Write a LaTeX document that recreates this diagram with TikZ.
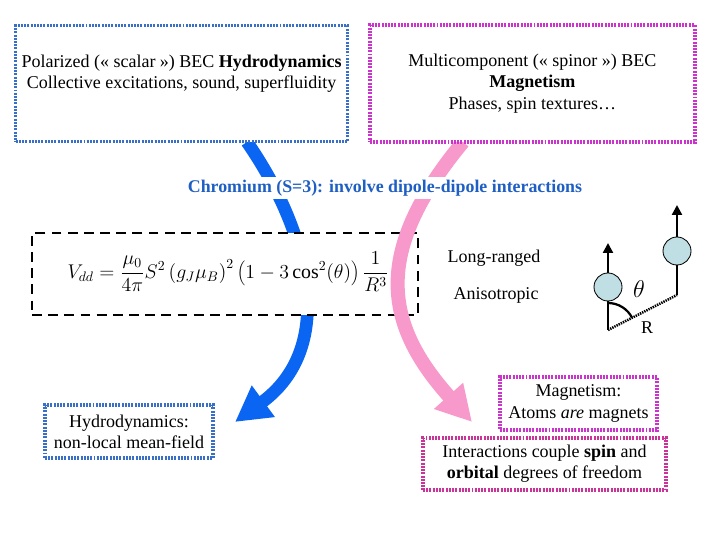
\documentclass[tikz,border=0pt]{standalone}
\usepackage{fontspec}
\setmainfont{Liberation Serif}
\usetikzlibrary{arrows.meta}
\definecolor{scalarborder}{HTML}{3A6FC8}
\definecolor{spinorborder}{HTML}{CC33CC}
\definecolor{couplingborder}{HTML}{CC3399}
\definecolor{bluearrow}{HTML}{0A66F2}
\definecolor{pinkarrow}{HTML}{F79ACB}
\definecolor{chromblue}{HTML}{1F5FC4}
\definecolor{atomfill}{HTML}{BFDFE5}
\tikzset{
  textbox/.style={rectangle, fill=white, line width=2.3pt, dash pattern=on 1.4pt off 0.9pt, align=center, font=\fontsize{12.8}{15}\selectfont},
  scalarbox/.style={textbox, draw=scalarborder},
  spinorbox/.style={textbox, draw=spinorborder},
  couplingbox/.style={textbox, draw=couplingborder},
  formulabox/.style={rectangle, draw=black, fill=white, line width=2pt, dash pattern=on 7pt off 4.5pt},
  plain/.style={font=\fontsize{12.8}{15}\selectfont, align=center},
  headline/.style={font=\fontsize{12.7}{14}\selectfont\bfseries, text=chromblue, fill=white, inner sep=2pt},
  bigflow/.style={line width=9pt, -{Triangle[length=25pt, width=26pt]}},
  atom/.style={circle, draw=black, fill=atomfill, line width=0.6pt, minimum size=0.7cm, inner sep=0pt},
  spin/.style={-{Triangle[length=7pt, width=7pt]}, line width=1.6pt},
  stem/.style={line width=1.6pt},
  bond/.style={line width=1.8pt, dash pattern=on 1pt off 0.7pt}
}
\begin{document}
\begin{tikzpicture}
\useasboundingbox (0,0) rectangle (18,13.5);
\fill[white] (0,0) rectangle (18,13.5);

\coordinate (bluestart) at (6.175,9.95);
\coordinate (bluetip) at (5.875,2.95);
\coordinate (pinkstart) at (11.575,9.95);
\coordinate (pinktip) at (11.8,2.95);

% blue branch goes behind the formula
\draw[bigflow, bluearrow] (bluestart) .. controls (7.8,7.6) and (8.4,4.8) .. (bluetip);

\node[formulabox, minimum width=9.65cm, minimum height=2.05cm] (dipolebox) at (5.625,6.65) {};
\node[font=\fontsize{14.4}{16}\selectfont] (formula) at (5.7,6.7)
  {\scalebox{0.98}{$\displaystyle V_{dd}=\frac{\mu_0}{4\pi}S^2\left(g_J\mu_B\right)^2\left(1-3\cos^2(\theta)\right)\frac{1}{R^3}$}};

% pink branch goes over it
\draw[bigflow, pinkarrow, line width=10pt] (pinkstart) .. controls (9.3,7.2) and (9.6,5.4) .. (pinktip);

\node[scalarbox, minimum width=8.3cm, minimum height=2.9cm] (scalar) at (4.54,11.41) {};
\node[plain] (scalartext) at (4.54,11.66) {Polarized (« scalar ») BEC \textbf{Hydrodynamics}\\Collective excitations, sound, superfluidity};
\node[spinorbox, minimum width=8.125cm, minimum height=2.925cm] (spinor) at (13.31,11.41) {Multicomponent (« spinor ») BEC\\\textbf{Magnetism}\\Phases, spin textures…};

\node[headline] (chromium) at (9.625,8.8) {Chromium (S=3): involve dipole-dipole interactions};

\node[plain] (longrange) at (12.35,7.05) {Long-ranged};
\node[plain] (aniso) at (12.4,6.125) {Anisotropic};

% two dipoles
\node[atom] (atomA) at (15.2,6.325) {};
\node[atom] (atomB) at (16.925,7.225) {};
\coordinate (baseA) at (15.2,5.25);
\coordinate (baseB) at (16.925,6.125);
\coordinate (tipA) at (15.2,7.425);
\coordinate (tipB) at (16.925,8.375);
\draw[stem] (atomA.south) -- (baseA);
\draw[stem] (atomB.south) -- (baseB);
\draw[spin] (atomA.north) -- (tipA);
\draw[spin] (atomB.north) -- (tipB);
\draw[bond] (baseA) -- (baseB);
\draw[stem] (baseA) ++(90:0.675) arc[start angle=90, end angle=27, radius=0.675];
\node[font=\fontsize{17}{17}\selectfont] (theta) at (15.975,6.275) {$\theta$};
\node[plain] (rlabel) at (16.175,5.3) {R};

\node[scalarbox, minimum width=4.2cm, minimum height=1.325cm] (hydro) at (3.225,2.7125) {Hydrodynamics:\\non-local mean-field};
\node[spinorbox, minimum width=3.925cm, minimum height=1.325cm] (magnet) at (14.4625,3.4125) {Magnetism:\\Atoms \textit{are} magnets};
\node[couplingbox, minimum width=6.075cm, minimum height=1.3cm] (coupling) at (13.6125,1.9) {Interactions couple \textbf{spin} and\\\textbf{orbital} degrees of freedom};

\end{tikzpicture}
\end{document}
